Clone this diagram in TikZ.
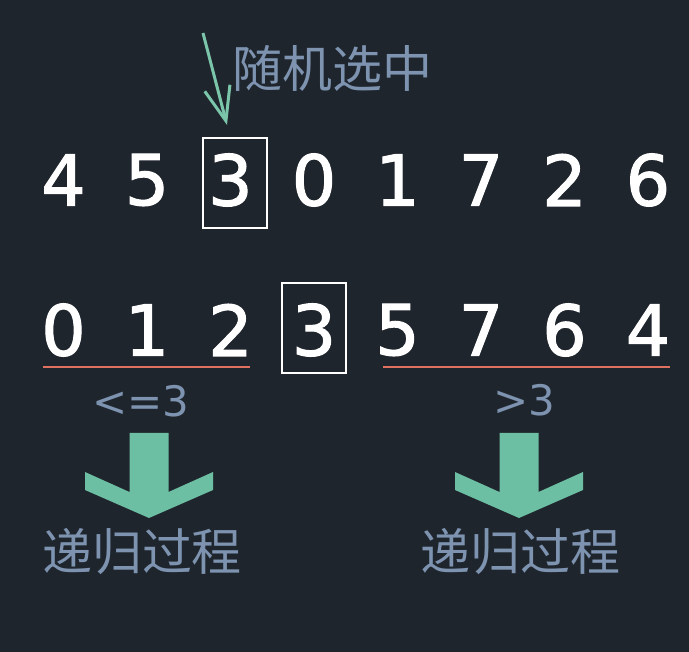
\documentclass[tikz,border=0pt]{standalone}
\usepackage{fontspec}
\setmainfont{DejaVu Sans}
\newfontfamily\digits{DejaVu Sans}[FakeBold=1.6]
\newfontfamily\cjk{Noto Sans CJK SC}
\usetikzlibrary{arrows.meta}
\definecolor{bg}{HTML}{1F252D}
\definecolor{note}{HTML}{7D93B0}
\definecolor{pick}{HTML}{6CBFA2}
\definecolor{part}{HTML}{E07060}
\tikzset{
  num/.style = {text=white, font=\digits\fontsize{70}{70}\selectfont, inner sep=0pt},
  picked/.style = {draw=white, line width=2pt, minimum width=64pt, minimum height=90pt, inner sep=0pt},
  lbl/.style = {text=note, font=\cjk\fontsize{50}{50}\selectfont, inner sep=0pt},
  cmp/.style = {text=note, font=\fontsize{42}{42}\selectfont, inner sep=0pt}
}

\begin{document}
\begin{tikzpicture}[x = 1pt, y = -1pt]
%background
\fill[bg] (0,0) rectangle (689,652);
%first row
\foreach \d [count=\i] in {4,5,3,0,1,7,2,6}{
	\node[num] (a\i) at ({63.5+83.5*(\i-1)},180){\d};
	}
\node[picked] (boxa) at (235,183){};
\node[lbl] (rand) at (332,68){随机选中};
\coordinate (pin) at (203,33);
\coordinate (tip) at (227,125);
\draw[pick!90!white, line width=3pt, -{Straight Barb[length=34pt, width=26pt, line width=3pt]}] (pin) -- (tip);
%second row
\foreach \d [count=\i] in {0,1,2,3,5,7,6,4}{
	\node[num] (b\i) at ({63.5+83.5*(\i-1)},330){\d};
	}
\node[picked] (boxb) at (313.5,328.5){};
\draw[part, line width=2.5pt] (43,367) -- (250,367);
\draw[part, line width=2.5pt] (383,367) -- (670,367);
\node[cmp] (low) at (141,401){<=3};
\node[cmp] (high) at (524,400){>3};
%recursion
\foreach \c in {149,519}{
	\fill[pick, shift={(\c,0)}] (-19.5,433) -- (19.5,433) -- (19.5,492) -- (64,472) -- (64,490)
		-- (0,518) -- (-64,490) -- (-64,472) -- (-19.5,492) -- cycle;
	}
\node[lbl] (recl) at (142,552){递归过程};
\node[lbl] (recr) at (520,552){递归过程};
\end{tikzpicture}
\end{document}
